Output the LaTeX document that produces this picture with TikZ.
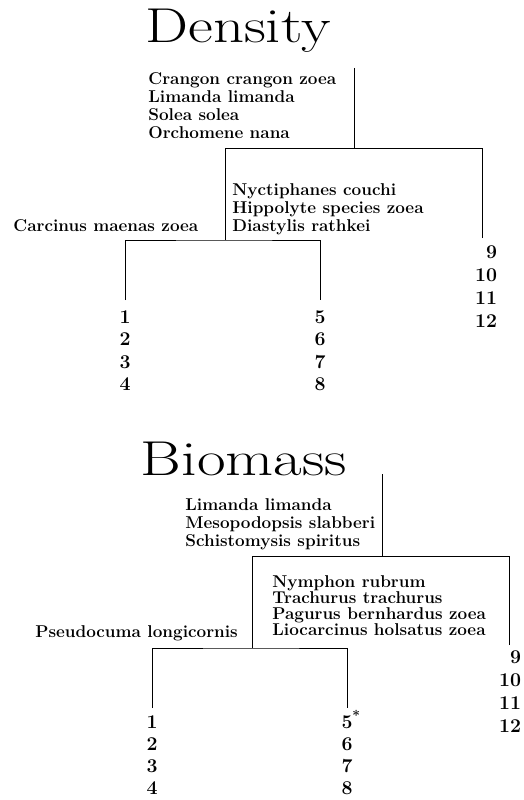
\documentclass[tikz,border=0pt]{standalone}
\usetikzlibrary{positioning}
\begin{document}
\begin{tikzpicture}[x=1pt, y=-1pt, line width=0.8pt,
  every node/.style={inner sep=0pt},
  heading/.style={font=\fontsize{49}{49}\selectfont, anchor=base},
  taxa/.style={font=\bfseries\fontsize{17.1}{18}\selectfont, align=left, anchor=north west},
  leaves/.style={font=\bfseries\fontsize{19.5}{22.5}\selectfont, align=center}]
  \useasboundingbox (0,0) rectangle (523,800);
  % Density
  \node[heading] (dTitle) at (238,43) {\scalebox{1.24}[1]{Density}};
  \coordinate (dRoot) at (354,68);
  \coordinate (dJ1) at (354,148);
  \coordinate (dJ2) at (225,240);
  \coordinate (dE1) at (125,300);
  \coordinate (dE5) at (320,300);
  \coordinate (dE9) at (482,238);
  \draw (dRoot) -- (dJ1);
  \draw (dE9) |- (dJ2 |- dJ1) -- (dJ2);
  \draw (dE1) |- (dJ2) -| (dE5);
  \node[taxa] (dTaxaA) at (148,72) {Crangon crangon zoea\\Limanda limanda\\Solea solea\\Orchomene nana};
  \node[taxa] (dTaxaB) at (232,183) {Nyctiphanes couchi\\Hippolyte species zoea\\Diastylis rathkei};
  \node[taxa] (dTaxaC) at (13,219) {Carcinus maenas zoea};
  \node[leaves, below=10pt of dE1] (dN1) {1\\2\\3\\4};
  \node[leaves, below=10pt of dE5] (dN5) {5\\6\\7\\8};
  \node[leaves, align=right, font=\bfseries\fontsize{19.5}{23}\selectfont, below=7pt of dE9, xshift=4pt] (dN9) {9\\10\\11\\12};
  % Biomass
  \node[heading] (bTitle) at (244,475) {\scalebox{1.27}[1]{Biomass}};
  \coordinate (bRoot) at (382,474);
  \coordinate (bJ1) at (382,556);
  \coordinate (bJ2) at (252,648);
  \coordinate (bE1) at (152,708);
  \coordinate (bE5) at (347,708);
  \coordinate (bE9) at (509,645);
  \draw (bRoot) -- (bJ1);
  \draw (bE9) |- (bJ2 |- bJ1) -- (bJ2);
  \draw (bE1) |- (bJ2) -| (bE5);
  \node[taxa] (bTaxaA) at (185,498) {Limanda limanda\\Mesopodopsis slabberi\\Schistomysis spiritus};
  \node[taxa, font=\bfseries\fontsize{17.1}{16}\selectfont] (bTaxaB) at (272,575) {Nymphon rubrum\\Trachurus trachurus\\Pagurus bernhardus zoea\\Liocarcinus holsatus zoea};
  \node[taxa] (bTaxaC) at (35,625) {Pseudocuma longicornis};
  \node[leaves, font=\bfseries\fontsize{19.5}{22}\selectfont, below=7pt of bE1] (bN1) {1\\2\\3\\4};
  \node[leaves, font=\bfseries\fontsize{19.5}{22}\selectfont, below=7pt of bE5] (bN5) {5\rlap{\smash{\textsuperscript{*}}}\\6\\7\\8};
  \node[leaves, align=right, font=\bfseries\fontsize{19.5}{23}\selectfont, below=5pt of bE9, xshift=1pt] (bN9) {9\\10\\11\\12};
\end{tikzpicture}
\end{document}
